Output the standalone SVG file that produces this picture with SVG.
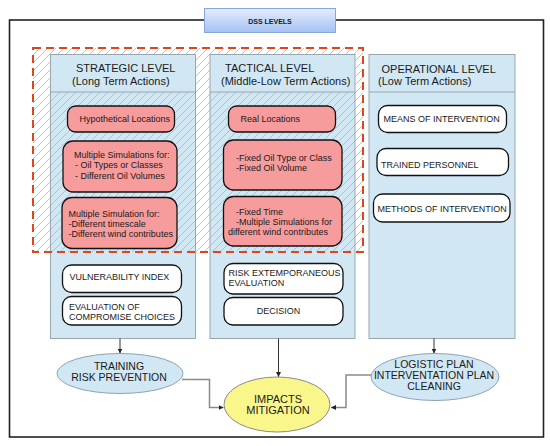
<svg xmlns="http://www.w3.org/2000/svg" width="550" height="446" viewBox="0 0 550 446">
<defs>
<linearGradient id="tg" x1="0" y1="0" x2="0" y2="1">
<stop offset="0" stop-color="#e4edfc"/>
<stop offset="1" stop-color="#a6c1f3"/>
</linearGradient>
<pattern id="hatch" patternUnits="userSpaceOnUse" width="8" height="8">
<path d="M0,8 L8,0 M-2,2 L2,-2 M6,10 L10,6" stroke="#b4b4b4" stroke-width="0.8"/>
</pattern>
<marker id="ah" markerWidth="6" markerHeight="6" refX="5" refY="3" orient="auto" markerUnits="userSpaceOnUse">
<path d="M0,0.5 L5,3 L0,5.5 Z" fill="#222"/>
</marker>
</defs>
<style>
text{font-family:"Liberation Sans",Arial,sans-serif;fill:#1a1a1a}
.hd{font-size:11px}
.nt{font-size:9px}
.el{font-size:10.5px}
.col{fill:#d2e7f4}
.colo{fill:none;stroke:#9aa6ae;stroke-width:1}
.pk{fill:#f79c9c;stroke:#111;stroke-width:1.3}
.wh{fill:#ffffff;stroke:#111;stroke-width:1.3}
.conn{fill:none;stroke:#333;stroke-width:1}
.conng{fill:none;stroke:#8a8a8a;stroke-width:1.5}
</style>
<rect width="550" height="446" fill="#ffffff"/>
<rect id="frame" x="9.5" y="20" width="534" height="417" fill="none" stroke="#222" stroke-width="1.6"/>
<g id="title">
<rect x="204.5" y="8.5" width="131" height="24" fill="url(#tg)" stroke="#86a6dc" stroke-width="1"/>
<text x="270" y="23.5" text-anchor="middle" style="font-size:7px;font-weight:bold">DSS LEVELS</text>
</g>
<!-- column fills -->
<rect class="col" x="50.5" y="54.5" width="145" height="284"/>
<rect class="col" x="210" y="54.5" width="145" height="284"/>
<rect class="col" x="369" y="54.5" width="146" height="284"/>
<!-- hatch -->
<rect x="33" y="48" width="330" height="204" fill="url(#hatch)"/>
<!-- headers -->
<rect class="col" x="50.5" y="54.5" width="145" height="37.5"/>
<rect class="col" x="210" y="54.5" width="145" height="37.5"/>
<g id="col-strategic">
<rect class="colo" x="50.5" y="54.5" width="145" height="284"/>
<line x1="50.5" y1="92" x2="195.5" y2="92" stroke="#9aa6ae"/>
<text class="hd" x="76" y="72">STRATEGIC LEVEL</text>
<text class="hd" x="72" y="84.5">(Long Term Actions)</text>
</g>
<g id="col-tactical">
<rect class="colo" x="210" y="54.5" width="145" height="284"/>
<line x1="210" y1="92" x2="355" y2="92" stroke="#9aa6ae"/>
<text class="hd" x="225" y="72">TACTICAL LEVEL</text>
<text class="hd" x="221" y="84.5">(Middle-Low Term Actions)</text>
</g>
<g id="col-operational">
<rect class="colo" x="369" y="54.5" width="146" height="284"/>
<line x1="369" y1="92" x2="515" y2="92" stroke="#9aa6ae"/>
<text class="hd" x="381.5" y="72.5">OPERATIONAL LEVEL</text>
<text class="hd" x="378" y="84.5">(Low Term Actions)</text>
</g>
<rect id="scope" x="33" y="48" width="330" height="204" fill="none" stroke="#e0441a" stroke-width="2" stroke-dasharray="8,5"/>
<g id="n-hypo"><rect class="pk" x="67.5" y="106" width="107" height="26" rx="8"/><text class="nt" x="79.5" y="121.5">Hypothetical Locations</text></g>
<g id="n-multi1"><rect class="pk" x="63" y="141" width="114" height="51" rx="10"/><text class="nt" x="74" y="157.5">Multiple Simulations for:</text><text class="nt" x="75" y="168">- Oil Types or Classes</text><text class="nt" x="75" y="178.5">- Different Oil Volumes</text></g>
<g id="n-multi2"><rect class="pk" x="62" y="197.5" width="115" height="51" rx="10"/><text class="nt" x="68.5" y="216.5">Multiple Simulation for:</text><text class="nt" x="68.5" y="226.5">-Different timescale</text><text class="nt" x="68.5" y="236.5">-Different wind contributes</text></g>
<g id="n-real"><rect class="pk" x="228.5" y="106" width="107" height="26" rx="8"/><text class="nt" x="240.5" y="121.5">Real Locations</text></g>
<g id="n-fixed1"><rect class="pk" x="223.5" y="140" width="118.5" height="50" rx="10"/><text class="nt" x="236" y="160.5">-Fixed Oil Type or Class</text><text class="nt" x="236" y="170.5">-Fixed Oil Volume</text></g>
<g id="n-fixed2"><rect class="pk" x="223.5" y="196.5" width="118.5" height="49.5" rx="10"/><text class="nt" x="236" y="214.5">-Fixed Time</text><text class="nt" x="236" y="224.5">-Multiple Simulations for</text><text class="nt" x="228" y="234.5">different wind contributes</text></g>
<g id="n-means"><rect class="wh" x="378.5" y="105.5" width="128" height="27" rx="9"/><text class="nt" x="383.5" y="122">MEANS OF INTERVENTION</text></g>
<g id="n-trained"><rect class="wh" x="377" y="148.5" width="131.5" height="27" rx="9"/><text class="nt" x="381" y="168">TRAINED PERSONNEL</text></g>
<g id="n-methods"><rect class="wh" x="373.5" y="194" width="136.5" height="28" rx="9"/><text class="nt" x="377.5" y="211.5">METHODS OF INTERVENTION</text></g>
<g id="n-vuln"><rect class="wh" x="62.5" y="265" width="119" height="27.5" rx="9"/><text class="nt" x="69.5" y="280">VULNERABILITY INDEX</text></g>
<g id="n-eval"><rect class="wh" x="62.5" y="296.5" width="119" height="28.5" rx="9"/><text class="nt" x="69" y="310">EVALUATION OF</text><text class="nt" x="69" y="320">COMPROMISE CHOICES</text></g>
<g id="n-risk"><rect class="wh" x="224" y="263.5" width="119" height="30.5" rx="9"/><text class="nt" x="228.5" y="276">RISK EXTEMPORANEOUS</text><text class="nt" x="228.5" y="286">EVALUATION</text></g>
<g id="n-decision"><rect class="wh" x="224" y="297.5" width="119" height="27.5" rx="9"/><text class="nt" x="278.5" y="314" text-anchor="middle">DECISION</text></g>
<g id="connectors">
<line class="conn" x1="120" y1="338.5" x2="120" y2="353.5" marker-end="url(#ah)"/>
<line class="conn" x1="278.5" y1="338.5" x2="278.5" y2="377" marker-end="url(#ah)"/>
<line class="conn" x1="434" y1="338.5" x2="434" y2="353.5" marker-end="url(#ah)"/>
<path class="conng" d="M182,379.5 H209.5 V407.5 H223.5" marker-end="url(#ah)"/>
<path class="conng" d="M372,375 H346 V407.5 H331" marker-end="url(#ah)"/>
</g>
<g id="e-training"><ellipse cx="120" cy="373.5" rx="63" ry="20" fill="#d2e7f4" stroke="#8ea3b3" stroke-width="1"/><text class="el" x="119" y="369.5" text-anchor="middle">TRAINING</text><text class="el" x="119" y="381" text-anchor="middle">RISK PREVENTION</text></g>
<g id="e-logistic"><ellipse cx="435" cy="377" rx="64" ry="23.5" fill="#d2e7f4" stroke="#8ea3b3" stroke-width="1"/><text class="el" x="434" y="367.5" text-anchor="middle">LOGISTIC PLAN</text><text class="el" x="434" y="378.5" text-anchor="middle">INTERVENTATION PLAN</text><text class="el" x="434" y="389.5" text-anchor="middle">CLEANING</text></g>
<g id="e-impacts"><ellipse cx="277" cy="404.5" rx="53" ry="27.5" fill="#f9f68c" stroke="#8a8a8a" stroke-width="1"/><text x="278" y="402.5" text-anchor="middle" style="font-size:11px">IMPACTS</text><text x="278" y="414" text-anchor="middle" style="font-size:11px">MITIGATION</text></g>
</svg>
